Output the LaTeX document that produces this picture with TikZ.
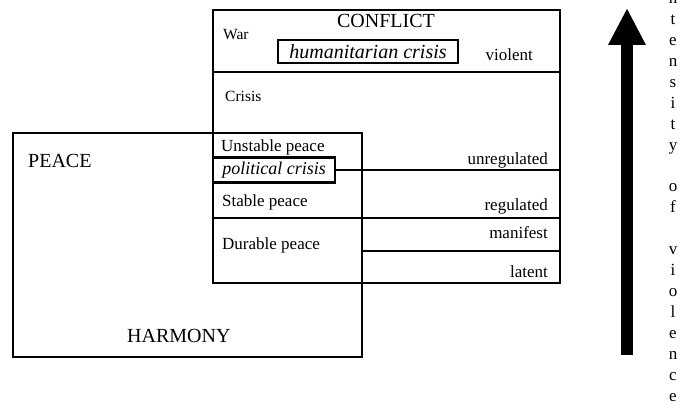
\documentclass[tikz,border=0pt]{standalone}
\usepackage{fontspec}
\setmainfont{Liberation Serif}
\usetikzlibrary{arrows.meta}

\begin{document}
\begin{tikzpicture}[x=1pt, y=-1pt,
  frame/.style={black, line width=1.8pt},
  rowline/.style={black, line width=1.6pt},
  big/.style={font=\fontsize{20}{24}\selectfont, inner sep=0pt},
  small/.style={font=\fontsize{17}{20}\selectfont, inner sep=0pt},
  tiny/.style={font=\fontsize{15.5}{18}\selectfont, inner sep=0pt},
  crisisbox/.style={draw, black, line width=2.8pt, inner sep=0pt}]
\useasboundingbox (0,0) rectangle (681,409);

% the two overlapping fields
\draw[frame] (213,10) rectangle (560,283);
\draw[frame] (13,133) rectangle (362,357);

\path (386,28) node[big, anchor=base] (conflict) {CONFLICT};
\path (28,168) node[big, anchor=base west] (peace) {PEACE};
\path (127,342) node[big, anchor=base west] (harmony) {HARMONY};

% conflict side
\path (223,40) node[tiny, anchor=base west] (war) {War};
\path (368,51.5) node[crisisbox, minimum width=180pt, minimum height=23pt,
  font=\itshape\fontsize{20}{22}\selectfont] (hum) {humanitarian crisis};
\path (533,61) node[small, anchor=base east] (violent) {violent};
\draw[rowline] (213,72) -- (560,72);
\path (225,102) node[tiny, anchor=base west] (crisis) {Crisis};

% peace side
\path (221,152) node[small, anchor=base west] (unstable) {Unstable peace};
\path (274,170) node[crisisbox, minimum width=122pt, minimum height=25pt,
  font=\itshape\fontsize{18}{20}\selectfont] (pol) {political crisis};
\path (222,207) node[small, anchor=base west] (stable) {Stable peace};
\path (222,250) node[small, anchor=base west] (durable) {Durable peace};

% regulation levels
\draw[rowline] (pol.east) -- (560,170);
\draw[rowline] (213,218) -- (560,218);
\draw[rowline] (362,251) -- (560,251);
\path (548,165) node[small, anchor=base east] (unreg) {unregulated};
\path (548,211) node[small, anchor=base east] (reg) {regulated};
\path (548,239) node[small, anchor=base east] (manifest) {manifest};
\path (548,277) node[small, anchor=base east] (latent) {latent};

% intensity arrow
\coordinate (arrowfoot) at (627,355);
\coordinate (arrowtip) at (627,8);
\draw[black, line width=12pt, -{Triangle[width=35pt,length=37pt]}] (arrowfoot) -- (arrowtip);
\foreach \k/\ch in {0/i,1/n,2/t,3/e,4/n,5/s,6/i,7/t,8/y,10/o,11/f,13/v,14/i,15/o,16/l,17/e,18/n,19/c,20/e}
  \path (673,{401-(20-\k)*20.9}) node[small, anchor=base] (v\k) {\ch};
\end{tikzpicture}
\end{document}
